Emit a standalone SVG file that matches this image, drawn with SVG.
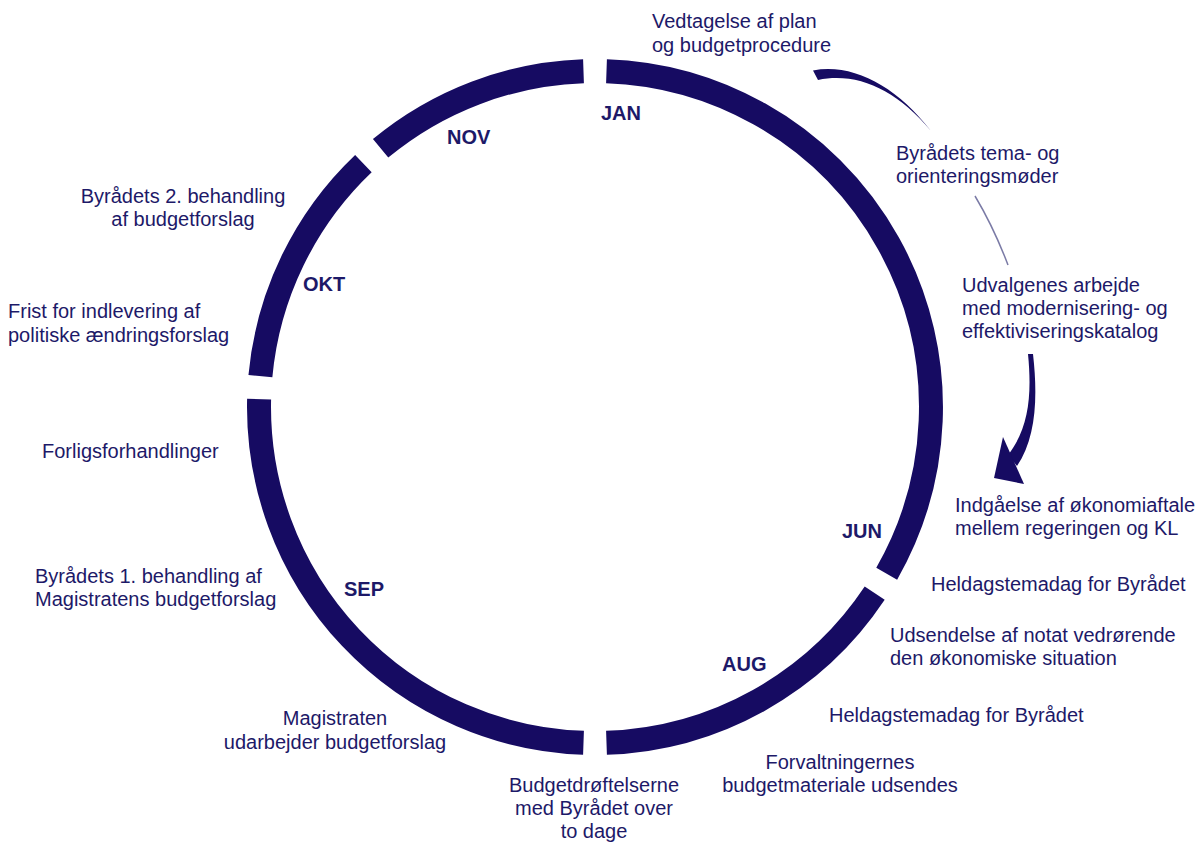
<svg xmlns="http://www.w3.org/2000/svg" width="1202" height="843" viewBox="0 0 1202 843">
<style>
.ring{fill:none;stroke:#160b62;stroke-width:24;stroke-linecap:butt}
.t{font-family:"Liberation Sans",Arial,sans-serif;font-size:20px;fill:#1d1968}
.m{font-family:"Liberation Sans",Arial,sans-serif;font-size:20px;font-weight:bold;fill:#1d1968}
.c{text-anchor:middle}
.arr{fill:#160b62}
</style>
<rect width="1202" height="843" fill="#ffffff"/>
<g id="ring">
<path id="seg-jan" class="ring" d="M606.5,71.2 A336,336 0 0 1 886.7,573.7"/>
<path id="seg-aug" class="ring" d="M874.7,593.2 A336,336 0 0 1 606.5,742.8"/>
<path id="seg-sep" class="ring" d="M583.5,742.8 A336,336 0 0 1 259.1,399.1"/>
<path id="seg-okt" class="ring" d="M260.4,376.2 A336,336 0 0 1 363.4,163.6"/>
<path id="seg-nov" class="ring" d="M380.6,148.3 A336,336 0 0 1 583.5,71.2"/>
</g>
<g id="connectors">
<path class="arr" d="M813,70.5 C853,63 896,86 931,131 C896,89 857,72 818,80 Z"/>
<path d="M975,196 Q994,228 1008,265" fill="none" stroke="#7b7ba6" stroke-width="1.5"/>
<path class="arr" d="M1028,354 C1032,395 1029,428 1008,455 L1017,466 C1036,438 1038,398 1033,354 Z"/>
<path class="arr" d="M1003,437 L994,478 L1024,484 Z"/>
</g>
<g id="month-jan"><text class="m" x="601" y="120">JAN</text></g>
<g id="month-nov"><text class="m" x="447" y="144">NOV</text></g>
<g id="month-okt"><text class="m" x="303" y="291">OKT</text></g>
<g id="month-sep"><text class="m" x="344" y="596">SEP</text></g>
<g id="month-aug"><text class="m" x="722" y="671">AUG</text></g>
<g id="month-jun"><text class="m" x="842" y="538">JUN</text></g>
<g id="n-vedtagelse"><text class="t" x="652" y="28">Vedtagelse af plan</text><text class="t" x="652" y="52">og budgetprocedure</text></g>
<g id="n-tema"><text class="t" x="896" y="160">Byrådets tema- og</text><text class="t" x="896" y="183">orienteringsmøder</text></g>
<g id="n-udvalg"><text class="t" x="962" y="292">Udvalgenes arbejde</text><text class="t" x="962" y="315">med modernisering- og</text><text class="t" x="962" y="338">effektiviseringskatalog</text></g>
<g id="n-aftale"><text class="t" x="955" y="512">Indgåelse af økonomiaftale</text><text class="t" x="955" y="535">mellem regeringen og KL</text></g>
<g id="n-heldag1"><text class="t" x="931" y="591">Heldagstemadag for Byrådet</text></g>
<g id="n-notat"><text class="t" x="890" y="642">Udsendelse af notat vedrørende</text><text class="t" x="890" y="665">den økonomiske situation</text></g>
<g id="n-heldag2"><text class="t" x="829" y="722">Heldagstemadag for Byrådet</text></g>
<g id="n-forvaltning"><text class="t c" x="840" y="769">Forvaltningernes</text><text class="t c" x="840" y="792">budgetmateriale udsendes</text></g>
<g id="n-budgetdroft"><text class="t c" x="594" y="792">Budgetdrøftelserne</text><text class="t c" x="594" y="815">med Byrådet over</text><text class="t c" x="594" y="838">to dage</text></g>
<g id="n-magistraten"><text class="t c" x="335" y="725">Magistraten</text><text class="t c" x="335" y="749">udarbejder budgetforslag</text></g>
<g id="n-beh1"><text class="t" x="35" y="583">Byrådets 1. behandling af</text><text class="t" x="35" y="606">Magistratens budgetforslag</text></g>
<g id="n-forlig"><text class="t" x="42" y="458">Forligsforhandlinger</text></g>
<g id="n-frist"><text class="t" x="8" y="318">Frist for indlevering af</text><text class="t" x="8" y="342">politiske ændringsforslag</text></g>
<g id="n-beh2"><text class="t c" x="183" y="203">Byrådets 2. behandling</text><text class="t c" x="183" y="226">af budgetforslag</text></g>
</svg>
